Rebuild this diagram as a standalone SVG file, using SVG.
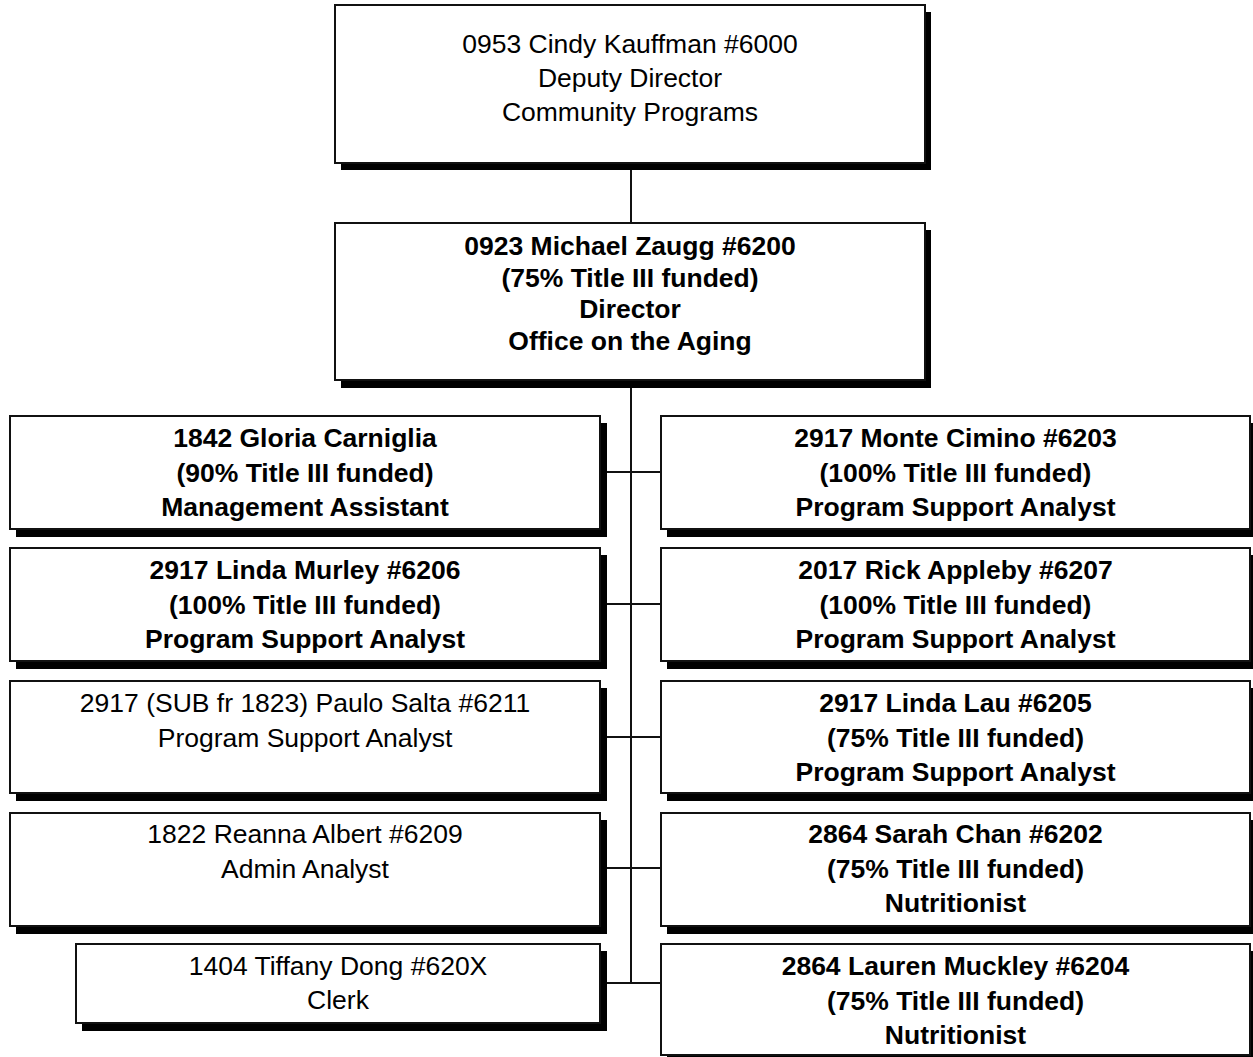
<svg xmlns="http://www.w3.org/2000/svg" width="1253" height="1057" viewBox="0 0 1253 1057">
<style>
.bg{fill:#fff}
.sh{fill:#000}
.bx{fill:#fff;stroke:#111;stroke-width:2}
.t{font-family:"Liberation Sans",Arial,sans-serif;font-size:26.5px;fill:#000;text-anchor:middle}
.b{font-weight:bold}
.ln{stroke:#111;stroke-width:2;fill:none}
</style>
<rect class="bg" x="0" y="0" width="1253" height="1057"/>
<g id="connectors">
<line class="ln" x1="631" y1="163" x2="631" y2="984"/>
<line class="ln" x1="600" y1="472" x2="661" y2="472"/>
<line class="ln" x1="600" y1="604" x2="661" y2="604"/>
<line class="ln" x1="600" y1="737" x2="661" y2="737"/>
<line class="ln" x1="600" y1="868" x2="661" y2="868"/>
<line class="ln" x1="600" y1="983" x2="661" y2="983"/>
</g>
<g id="n-cindy">
<rect class="sh" x="341" y="12" width="590" height="158"/>
<rect class="bx" x="335" y="5" width="590" height="158"/>
<text class="t" x="630" y="53">0953 Cindy Kauffman #6000</text>
<text class="t" x="630" y="87">Deputy Director</text>
<text class="t" x="630" y="121">Community Programs</text>
</g>
<g id="n-michael">
<rect class="sh" x="341" y="230" width="590" height="158"/>
<rect class="bx" x="335" y="223" width="590" height="157"/>
<text class="t b" x="630" y="255">0923 Michael Zaugg #6200</text>
<text class="t b" x="630" y="286.5">(75% Title III funded)</text>
<text class="t b" x="630" y="318">Director</text>
<text class="t b" x="630" y="349.5">Office on the Aging</text>
</g>
<g id="n-gloria">
<rect class="sh" x="16" y="423" width="591" height="114"/>
<rect class="bx" x="10" y="416" width="590" height="113"/>
<text class="t b" x="305" y="447">1842 Gloria Carniglia</text>
<text class="t b" x="305" y="481.5">(90% Title III funded)</text>
<text class="t b" x="305" y="516">Management Assistant</text>
</g>
<g id="n-murley">
<rect class="sh" x="16" y="555" width="591" height="114"/>
<rect class="bx" x="10" y="548" width="590" height="113"/>
<text class="t b" x="305" y="579">2917 Linda Murley #6206</text>
<text class="t b" x="305" y="613.5">(100% Title III funded)</text>
<text class="t b" x="305" y="648">Program Support Analyst</text>
</g>
<g id="n-paulo">
<rect class="sh" x="16" y="688" width="591" height="113"/>
<rect class="bx" x="10" y="681" width="590" height="112"/>
<text class="t" x="305" y="712">2917 (SUB fr 1823) Paulo Salta #6211</text>
<text class="t" x="305" y="746.5">Program Support Analyst</text>
</g>
<g id="n-reanna">
<rect class="sh" x="16" y="820" width="591" height="114"/>
<rect class="bx" x="10" y="813" width="590" height="113"/>
<text class="t" x="305" y="843">1822 Reanna Albert #6209</text>
<text class="t" x="305" y="877.5">Admin Analyst</text>
</g>
<g id="n-tiffany">
<rect class="sh" x="82" y="951" width="525" height="80"/>
<rect class="bx" x="76" y="944" width="524" height="79"/>
<text class="t" x="338" y="975">1404 Tiffany Dong #620X</text>
<text class="t" x="338" y="1009">Clerk</text>
</g>
<g id="n-monte">
<rect class="sh" x="667" y="423" width="592" height="114"/>
<rect class="bx" x="661" y="416" width="589" height="113"/>
<text class="t b" x="955.5" y="447">2917 Monte Cimino #6203</text>
<text class="t b" x="955.5" y="481.5">(100% Title III funded)</text>
<text class="t b" x="955.5" y="516">Program Support Analyst</text>
</g>
<g id="n-rick">
<rect class="sh" x="667" y="555" width="592" height="114"/>
<rect class="bx" x="661" y="548" width="589" height="113"/>
<text class="t b" x="955.5" y="579">2017 Rick Appleby #6207</text>
<text class="t b" x="955.5" y="613.5">(100% Title III funded)</text>
<text class="t b" x="955.5" y="648">Program Support Analyst</text>
</g>
<g id="n-lau">
<rect class="sh" x="667" y="688" width="592" height="113"/>
<rect class="bx" x="661" y="681" width="589" height="112"/>
<text class="t b" x="955.5" y="712">2917 Linda Lau #6205</text>
<text class="t b" x="955.5" y="746.5">(75% Title III funded)</text>
<text class="t b" x="955.5" y="781">Program Support Analyst</text>
</g>
<g id="n-chan">
<rect class="sh" x="667" y="820" width="592" height="114"/>
<rect class="bx" x="661" y="813" width="589" height="113"/>
<text class="t b" x="955.5" y="843">2864 Sarah Chan #6202</text>
<text class="t b" x="955.5" y="877.5">(75% Title III funded)</text>
<text class="t b" x="955.5" y="912">Nutritionist</text>
</g>
<g id="n-muckley">
<rect class="sh" x="667" y="951" width="592" height="114"/>
<rect class="bx" x="661" y="944" width="589" height="111"/>
<text class="t b" x="955.5" y="975">2864 Lauren Muckley #6204</text>
<text class="t b" x="955.5" y="1009.5">(75% Title III funded)</text>
<text class="t b" x="955.5" y="1044">Nutritionist</text>
</g>
</svg>
